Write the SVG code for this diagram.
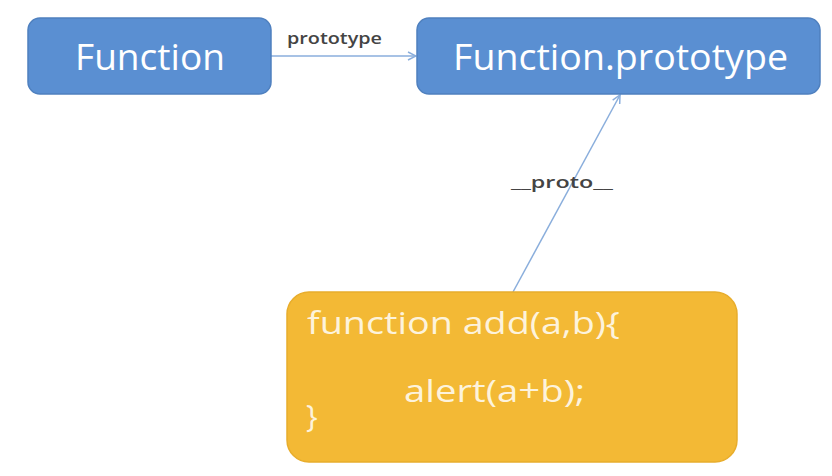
<svg xmlns="http://www.w3.org/2000/svg" width="832" height="476" viewBox="0 0 832 476">
<style>
.blue{fill:#5a8fd2;stroke:#4f80bf;stroke-width:1.5}
.yel{fill:#f3b935;stroke:#e8ad2c;stroke-width:1.5}
.nt{font-family:"Open Sans","Liberation Sans",sans-serif;fill:#ffffff}
.ny{font-family:"Open Sans","Liberation Sans",sans-serif;fill:#fdf3dc}
.lbl{font-family:"Open Sans","Liberation Sans",sans-serif;font-size:16px;font-weight:600;fill:#444444}
.conn{stroke:#8aaedc;stroke-width:1.5;fill:none}
</style>
<defs>
<marker id="ah" markerWidth="10" markerHeight="10" refX="9" refY="5" orient="auto" markerUnits="userSpaceOnUse">
<path d="M1,1 L9,5 L1,9" fill="none" stroke="#8aaedc" stroke-width="1.5"/>
</marker>
</defs>
<rect width="832" height="476" fill="#ffffff"/>
<g id="connectors">
<line class="conn" x1="271" y1="56" x2="416" y2="56" marker-end="url(#ah)"/>
<text class="lbl" x="287" y="44" textLength="95" lengthAdjust="spacingAndGlyphs">prototype</text>
<line class="conn" x1="513" y1="292" x2="620" y2="95" marker-end="url(#ah)"/>
<text class="lbl" x="511" y="188" textLength="102" lengthAdjust="spacingAndGlyphs">__proto__</text>
</g>
<g id="function">
<rect class="blue" x="28" y="18" width="243" height="76" rx="12"/>
<text class="nt" x="75" y="70" font-size="37" textLength="150" lengthAdjust="spacingAndGlyphs">Function</text>
</g>
<g id="function-prototype">
<rect class="blue" x="417" y="18" width="403" height="76" rx="12"/>
<text class="nt" x="453" y="70" font-size="37" textLength="335" lengthAdjust="spacingAndGlyphs">Function.prototype</text>
</g>
<g id="add">
<rect class="yel" x="287" y="292" width="450" height="170" rx="22"/>
<text class="ny" x="307" y="334" font-size="31" textLength="313" lengthAdjust="spacingAndGlyphs">function add(a,b){</text>
<text class="ny" x="404" y="402" font-size="31" textLength="181" lengthAdjust="spacingAndGlyphs">alert(a+b);</text>
<text class="ny" x="306" y="427" font-size="31">}</text>
</g>
</svg>
